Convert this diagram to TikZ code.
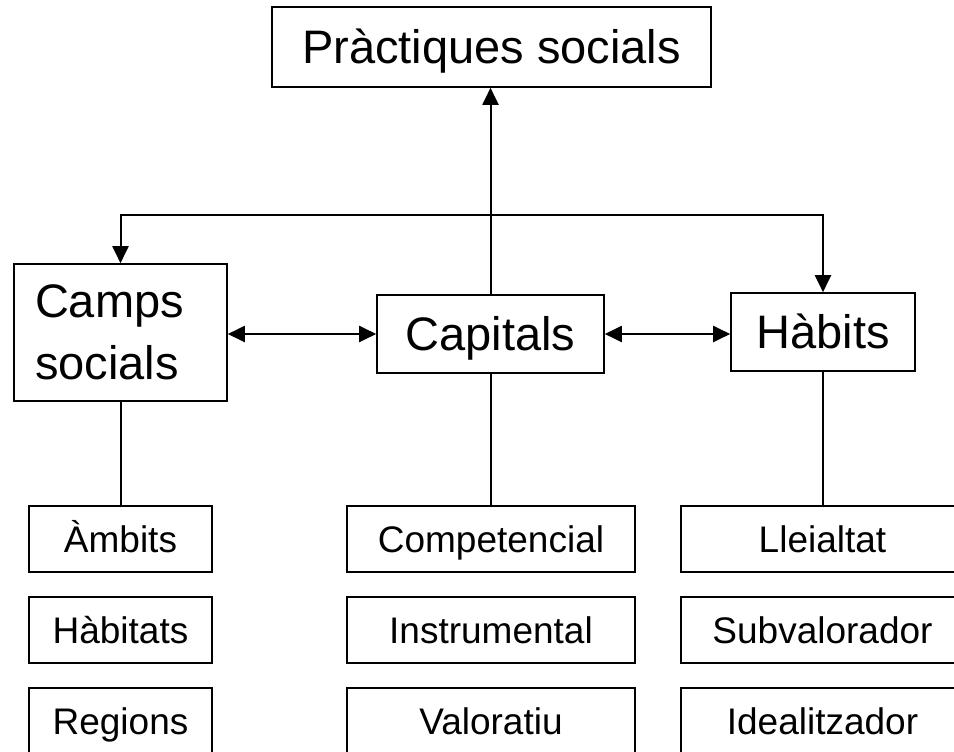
\documentclass[tikz,border=0pt]{standalone}
\usepackage{fontspec}
\setmainfont{Liberation Sans}
\usetikzlibrary{arrows.meta}
\begin{document}
\begin{tikzpicture}[x=1pt,y=-1pt,
  box/.style={draw=black,line width=1.6pt,fill=white,inner sep=0pt,align=center},
  big/.style={box,font=\fontsize{47}{62}\selectfont},
  onebig/.style={text height=33.7pt,text depth=0pt},
  small/.style={box,text height=26.5pt,text depth=0pt,font=\fontsize{37}{44}\selectfont,minimum height=66pt},
  conn/.style={line width=2pt,draw=black},
  >={Triangle[length=17pt,width=16pt]}]
\useasboundingbox (0,0) rectangle (954,752);
\clip (0,0) rectangle (954,752);
\node[big,onebig,minimum width=439pt,minimum height=80pt] (top) at (491.5,47) {Pràctiques socials};
\node[big,minimum height=137pt,inner xsep=21pt,text width=171pt,align=left] (camps) at (120.5,332.5) {Camps\\socials};
\node[big,onebig,minimum width=227pt,minimum height=78pt] (cap) at (490.5,334) {Capitals};
\node[big,onebig,minimum width=184pt,minimum height=78pt] (hab) at (823,332) {Hàbits};
\node[small,minimum width=183pt] (amb) at (120.5,539) {Àmbits};
\node[small,minimum width=183pt] (hbt) at (120.5,630) {Hàbitats};
\node[small,minimum width=183pt] (reg) at (120.5,721) {Regions};
\node[small,minimum width=288pt] (comp) at (491,539) {Competencial};
\node[small,minimum width=288pt] (inst) at (491,630) {Instrumental};
\node[small,minimum width=288pt] (val) at (491,721) {Valoratiu};
\node[small,minimum width=283pt] (llei) at (822.5,539) {Lleialtat};
\node[small,minimum width=283pt] (subv) at (822.5,630) {Subvalorador};
\node[small,minimum width=283pt] (ideal) at (822.5,721) {Idealitzador};
\coordinate (hl) at (120.5,215);
\draw[conn,->] (cap.north) -- (cap.north |- top.south);
\draw[conn,<->] (camps.north) -- (camps.north |- hl) -- (hab.north |- hl) -- (hab.north);
\draw[conn,<->] (cap.west -| camps.east) -- (cap.west);
\draw[conn,<->] (cap.east) -- (cap.east -| hab.west);
\draw[conn] (camps.south) -- (amb.north);
\draw[conn] (cap.south) -- (cap.south |- comp.north);
\draw[conn] (hab.south) -- (hab.south |- llei.north);
\end{tikzpicture}
\end{document}
